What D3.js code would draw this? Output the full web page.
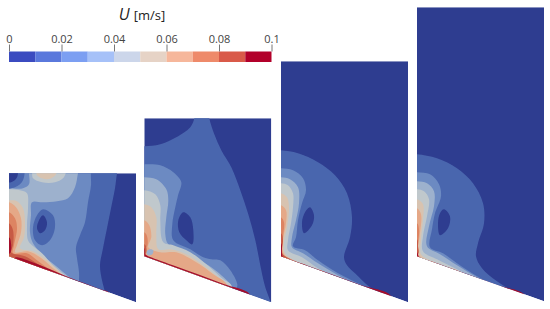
<!DOCTYPE html>
<html>
<head>
<meta charset="utf-8">
<script src="https://cdn.jsdelivr.net/npm/d3@7"></script>
<style>
  html, body { margin: 0; background: #fff; }
  svg { display: block; }
</style>
</head>
<body>
<div id="chart"></div>
<script>
const barValues = [0, 0.01, 0.02, 0.03, 0.04, 0.05, 0.06, 0.07, 0.08, 0.09]
const barColors = ['#3b4cc0', '#5a78dc', '#7c9ff2', '#a6c1f8', '#ccd6ea', '#e6d3c6', '#f6b79b', '#ee8a6a', '#d95a48', '#b2062c']
const tickValues = [0, 0.02, 0.04, 0.06, 0.08, 0.1]
// same levels seen through the render's lighting, a bit darker than the bar
const fieldColors = ['#2e3d90', '#4a66ae', '#6c8ac2', '#9db1cd', '#c0c8cc', '#d8c3b0', '#e5a887', '#dd8462', '#c75a45', '#a50f2c']

// outline of each domain, x across and y up from the left end of the sloped floor
const panelWidths = [127, 127, 127, 127]
const panelHeights = [83, 138, 195, 249]
const floorDrop = [-46, -46, -46, -45]

// [level, contour points], painted in order
const panel1Shapes = [
  [1, [[110, 92], [108, 83], [106, 68], [102, 48], [98, 28], [94, 8], [91, -9], [93, -24], [96, -36], [100, -60], [-12, -60], [-12, 92]]],
  [2, [[84, 92], [82, 83], [82, 71], [79, 54], [76, 34], [71, 21], [67, 9], [68, -2], [70, -16], [70, -26], [70, -60], [-12, -60], [-12, 92]]],
  [3, [[71, 92], [69, 83], [66, 69], [59, 58], [48, 55], [34, 54], [23, 54], [22, 41], [21, 24], [24, 13], [34, 1], [46, -9], [58, -19], [64, -25], [64, -60], [-12, -60], [-12, 92]]],
  [1, [[34, 47], [44, 41], [46, 29], [41, 16], [33, 11], [26, 16], [24, 29], [28, 41]]],
  [0, [[34, 41], [38, 34], [36, 26], [31, 23], [28, 28], [30, 36]]],
  [2, [[20, 92], [20, 83], [20, 72], [14, 68], [0, 68], [-12, 68], [-12, 92]]],
  [1, [[-8, 90], [14, 90], [14, 76], [6, 69], [-8, 69]]],
  [0, [[-6, 90], [8, 88], [8, 79], [2, 74], [-6, 76]]],
  [4, [[21, 92], [23, 84], [24, 78], [33, 74], [46, 74], [54, 78], [57, 84], [58, 92]]],
  [5, [[26, 92], [27, 84], [29, 80], [38, 77], [44, 79], [48, 84], [49, 92]]],
  [4, [[-12, 67], [0, 67], [11, 66], [18, 63], [19, 48], [18, 31], [19, 16], [23, 11], [33, 3], [44, -9], [56, -19], [63, -25], [63, -60], [-12, -60]]],
  [5, [[-12, 56], [0, 56], [8, 55], [14, 48], [16, 34], [15, 19], [11, 8], [24, 5], [34, -1], [46, -11], [56, -21], [60, -24], [60, -60], [-12, -60]]],
  [6, [[-12, 54], [0, 54], [7, 49], [12, 38], [12, 24], [8, 11], [6, 4], [19, 5], [31, -1], [43, -11], [53, -21], [54, -50], [-12, -50]]],
  [7, [[-12, 44], [0, 44], [6, 38], [8, 28], [5, 11], [4, 3], [18, 3], [28, -4], [41, -14], [48, -20], [48, -50], [-12, -50]]],
  [8, [[-12, 33], [0, 33], [4, 26], [4, 11], [2, 4], [16, 0], [26, -6], [38, -14], [42, -18], [42, -50], [-12, -50]]],
  [9, [[-12, 19], [0, 19], [2, 13], [1, 3], [-12, 2]]],
  [9, [[6, -1.5], [25, -6.5], [40, -12.5], [55, -19], [70, -25], [90, -32.4], [100, -36.3], [100, -45], [6, -12]]]
]

const panel2Shapes = [
  [1, [[50, 146], [50, 138], [46, 129], [32, 119], [16, 112], [0, 110], [-12, 110], [-12, -60], [130, -60], [126, -45], [121, -31], [117, -14], [111, 16], [104, 42], [96, 66], [87, 89], [77, 106], [70, 122], [65, 138], [64, 146]]],
  [0, [[39, 44], [46, 39], [49, 26], [48, 12], [42, 16], [35, 24], [34, 36]]],
  [2, [[-12, 92], [0, 92], [16, 91], [29, 84], [37, 74], [34, 62], [31, 49], [28, 32], [29, 16], [46, 7], [59, -1], [67, -3], [76, -4], [86, -14], [93, -28], [92, -34], [92, -60], [-12, -60]]],
  [3, [[-12, 79], [0, 79], [12, 77], [22, 67], [24, 56], [22, 39], [21, 22], [24, 12], [39, 6], [56, -4], [71, -14], [86, -28], [89, -34], [89, -60], [-12, -60]]],
  [4, [[-12, 66], [0, 66], [11, 62], [16, 51], [16, 36], [19, 14], [29, 11], [46, 4], [62, -8], [79, -23], [87, -29], [87, -60], [-12, -60]]],
  [5, [[-12, 52], [0, 52], [7, 49], [12, 39], [12, 22], [14, 7], [26, 7], [42, 2], [59, -9], [76, -23], [84, -30], [84, -60], [-12, -60]]],
  [6, [[-12, 36], [0, 36], [5, 31], [7, 19], [4, 9], [16, 4], [32, 4], [52, -6], [69, -18], [83, -29], [83, -60], [-12, -60]]],
  [3, [[5, 7], [9, 6], [8, 2], [4, 1], [2, 4]]],
  [7, [[-12, 24], [0, 24], [3, 19], [2, 9], [-12, 9]]],
  [8, [[-12, 12], [0, 12], [2, 9], [1, 2], [-12, 2]]],
  [9, [[-12, 8], [0, 8], [1, 2], [8, -1.5], [30, -9.5], [55, -18.5], [80, -28], [105, -37.5], [105, -50], [-12, -12]]]
]

const panel3Shapes = [
  [1, [[-12, 106], [0, 106], [17, 103], [37, 94], [54, 81], [66, 63], [71, 39], [69, 19], [63, -1], [66, -9], [74, -17], [89, -31], [104, -39], [104, -60], [-12, -60]]],
  [0, [[29, 49], [33, 41], [31, 31], [23, 23], [21, 34], [24, 44]]],
  [2, [[-12, 88], [0, 88], [12, 86], [22, 78], [25, 66], [21, 53], [17, 36], [15, 19], [12, 10], [24, 6], [37, -4], [57, -17], [81, -29], [90, -34], [90, -60], [-12, -60]]],
  [3, [[-12, 79], [0, 79], [9, 77], [17, 69], [18, 53], [15, 36], [11, 19], [11, 9], [22, 3], [37, -7], [57, -19], [77, -29], [82, -32], [82, -60], [-12, -60]]],
  [4, [[-12, 73], [0, 73], [7, 71], [12, 63], [12, 49], [10, 33], [7, 16], [7, 6], [21, -1], [37, -12], [61, -24], [70, -28], [70, -60], [-12, -60]]],
  [5, [[-12, 63], [0, 63], [6, 59], [8, 49], [6, 29], [3, 13], [4, 3], [17, -6], [37, -15], [54, -21], [60, -24], [60, -60], [-12, -60]]],
  [6, [[-12, 51], [0, 51], [5, 46], [5, 33], [2, 16], [3, 2], [14, -6], [30, -12], [46, -18], [46, -60], [-12, -60]]],
  [7, [[-12, 39], [0, 39], [3, 34], [2, 19], [2, 2], [12, -5], [24, -10], [36, -15], [36, -60], [-12, -60]]],
  [8, [[-12, 23], [0, 23], [2, 16], [1, 3], [8, -2], [18, -6.5], [26, -10], [26, -60], [-12, -60]]],
  [9, [[-12, 13], [0, 13], [1, 3], [2, -0.5], [20, -7], [50, -17.7], [80, -28.7], [110, -39.7], [110, -60], [-12, -12]]]
]

const panel4Shapes = [
  [1, [[-12, 102], [0, 102], [20, 98], [40, 88], [56, 73], [66, 53], [67, 33], [61, 13], [59, 0], [65, -12], [80, -25], [100, -37], [108, -41], [108, -60], [-12, -60]]],
  [0, [[27, 47], [33, 40], [31, 28], [23, 21], [21, 33], [23, 43]]],
  [2, [[-12, 84], [0, 84], [13, 82], [22, 72], [24, 60], [18, 43], [15, 27], [13, 9], [26, 3], [40, -7], [60, -20], [83, -32], [92, -36], [92, -60], [-12, -60]]],
  [3, [[-12, 75], [0, 75], [10, 73], [17, 65], [17, 50], [12, 30], [10, 10], [23, 2], [40, -9], [60, -21], [76, -29], [80, -31], [80, -60], [-12, -60]]],
  [4, [[-12, 67], [0, 67], [7, 65], [12, 57], [10, 40], [6, 20], [6, 5], [20, -3], [40, -13], [58, -22], [62, -24], [62, -60], [-12, -60]]],
  [5, [[-12, 57], [0, 57], [6, 52], [6, 37], [4, 17], [4, 2], [13, -4], [28, -10], [44, -17], [44, -60], [-12, -60]]],
  [6, [[-12, 48], [0, 48], [4, 42], [3, 23], [1, 7], [2, 1], [10, -4], [20, -8], [20, -60], [-12, -60]]],
  [7, [[-12, 33], [0, 33], [2, 27], [1, 10], [1, 3], [-12, 3]]],
  [8, [[-12, 17], [0, 17], [1, 10], [1, 2], [-12, 2]]],
  [9, [[-12, 4], [0, 4], [2, -0.5], [20, -7], [50, -17.7], [80, -28.7], [108, -39], [108, -60], [-12, -12]]]
]

const panelShapes = [panel1Shapes, panel2Shapes, panel3Shapes, panel4Shapes]

const width = 550
const height = 309

const svg = d3.select('#chart')
  .append('svg')
  .attr('width', width)
  .attr('height', height)

const defs = svg.append('defs')
defs.append('filter')
  .attr('id', 'soft')
  .attr('x', '-5%').attr('y', '-5%').attr('width', '110%').attr('height', '110%')
  .append('feGaussianBlur')
  .attr('stdDeviation', 0.45)

const levelColor = d3.scaleOrdinal(d3.range(10), fieldColors)

// all panels share the same floor height, only the left edge moves
const panelLefts = [9, 144.3, 281, 417]
const y = d3.scaleLinear().domain([0, 249]).range([256.3, 7.3])

const contourPath = (x) => d3.line()
  .x(d => x(d[0]))
  .y(d => y(d[1]))
  .curve(d3.curveCatmullRomClosed.alpha(0.5))

panelShapes.forEach((shapes, i) => {
  const x = d3.scaleLinear().domain([0, panelWidths[i]]).range([panelLefts[i], panelLefts[i] + panelWidths[i]])
  const outline = [[0, panelHeights[i]], [panelWidths[i], panelHeights[i]], [panelWidths[i], floorDrop[i]], [0, 0]]
  const outlinePath = d3.line().x(d => x(d[0])).y(d => y(d[1])).curve(d3.curveLinearClosed)

  defs.append('clipPath')
    .attr('id', `panel-${i}`)
    .append('path')
    .attr('d', outlinePath(outline))

  const g = svg.append('g')
    .attr('filter', 'url(#soft)')
    .append('g')
    .attr('clip-path', `url(#panel-${i})`)

  g.append('path')
    .attr('d', outlinePath(outline))
    .attr('fill', levelColor(0))

  g.selectAll('path.level')
    .data(shapes)
    .enter()
    .append('path')
    .attr('class', 'level')
    .attr('d', d => contourPath(x)(d[1]))
    .attr('fill', d => levelColor(d[0]))
})

// colour bar
const barX = d3.scaleLinear().domain([0, 0.1]).range([9, 271.5])
const barTop = 51.5
const barHeight = 10.5

const bar = svg.append('g').attr('filter', 'url(#soft)')
bar.selectAll('rect')
  .data(barValues)
  .enter()
  .append('rect')
  .attr('x', d => barX(d))
  .attr('y', barTop)
  .attr('width', d => barX(0.01) - barX(0))
  .attr('height', barHeight)
  .attr('fill', (d, i) => barColors[i])

const axis = svg.append('g')
  .attr('transform', `translate(0,${barTop})`)
  .call(d3.axisTop(barX)
    .tickValues(tickValues)
    .tickSize(7)
    .tickPadding(2)
    .tickFormat(d => String(+d.toFixed(2))))

axis.select('.domain').remove()
axis.selectAll('.tick line').attr('stroke', '#777')
axis.selectAll('.tick text')
  .attr('font-family', 'Open Sans')
  .attr('font-size', 11)
  .attr('fill', '#444')

const title = svg.append('text')
  .attr('x', 142)
  .attr('y', 20)
  .attr('text-anchor', 'middle')
  .attr('font-family', 'Open Sans')
  .attr('font-size', 14.5)
  .attr('fill', '#222')
title.append('tspan').attr('font-style', 'italic').attr('font-size', 16).text('U')
title.append('tspan').attr('dx', 4).attr('font-size', 13).text('[m/s]')
</script>
</body>
</html>
